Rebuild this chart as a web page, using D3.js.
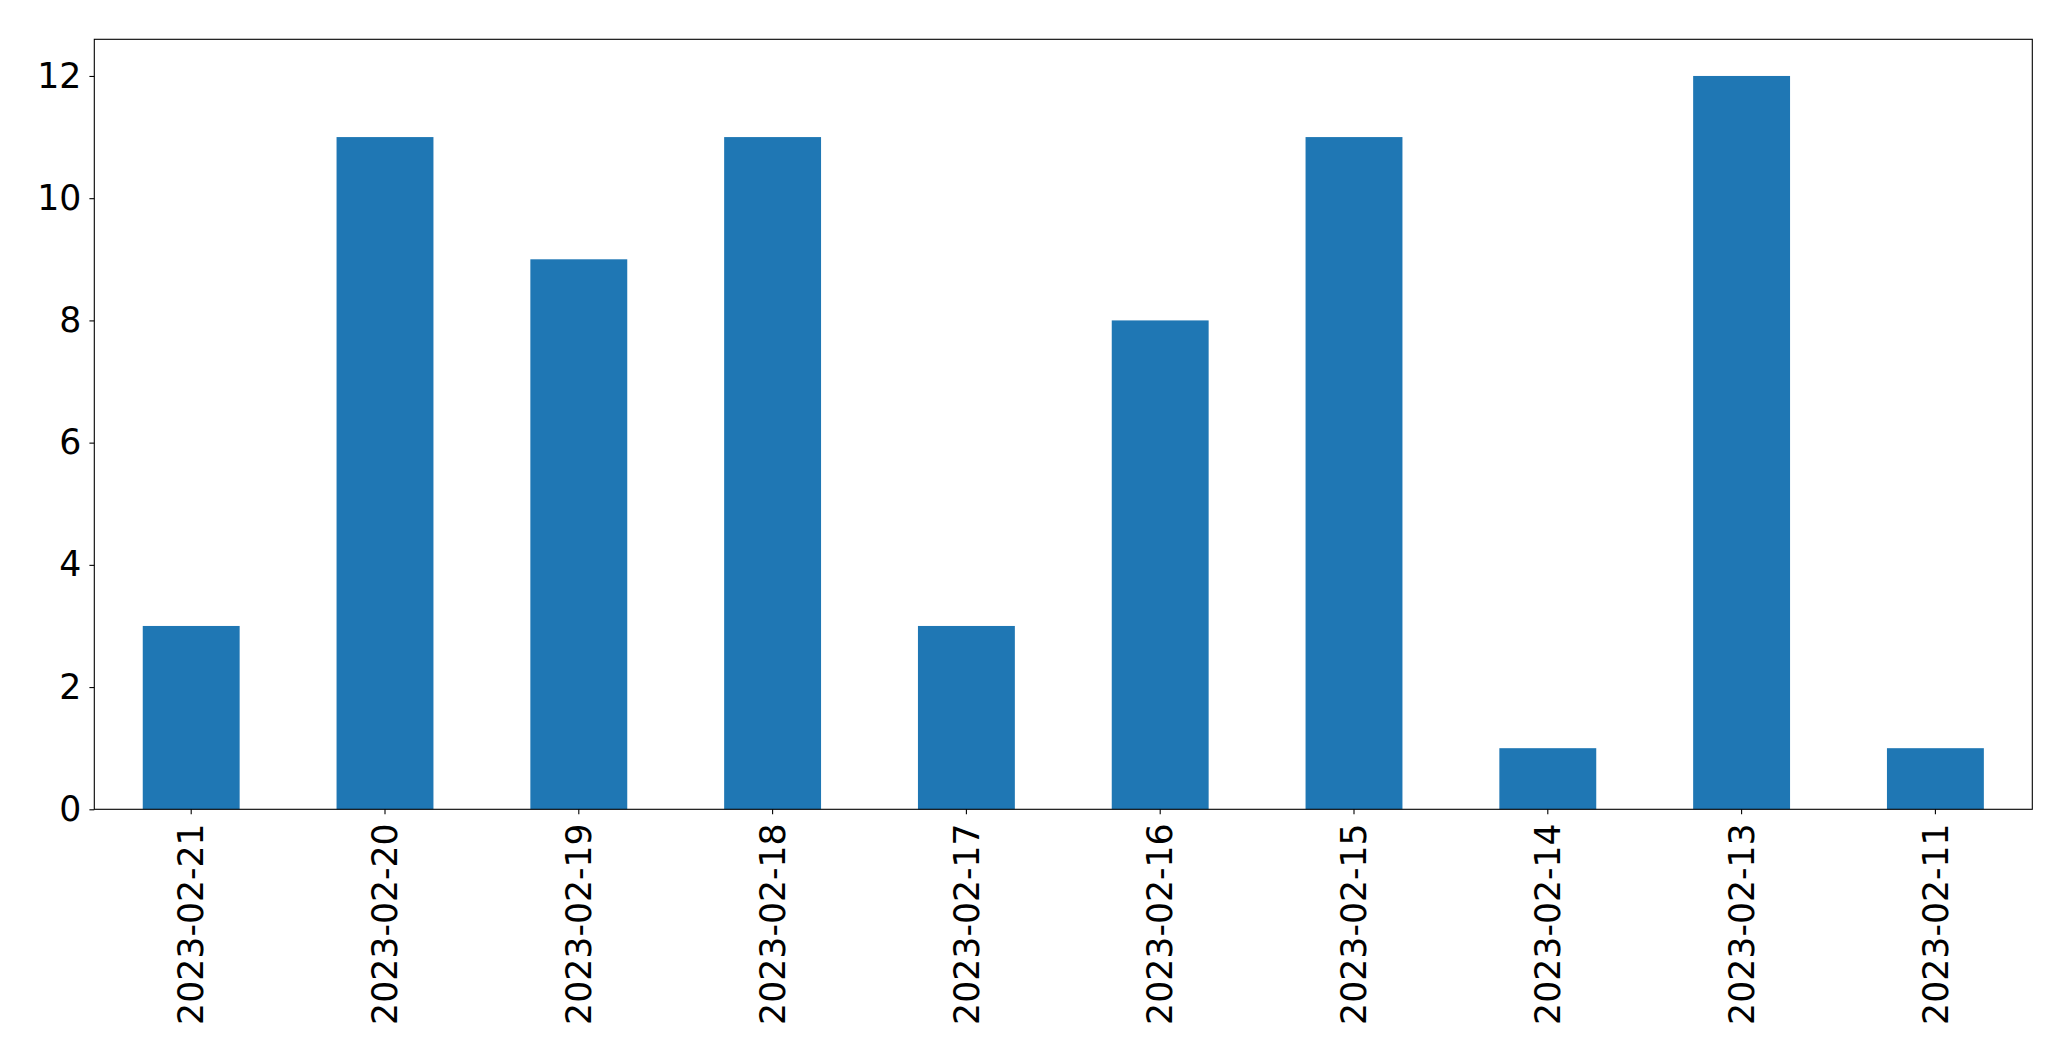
<!DOCTYPE html>
<html><head><meta charset="utf-8">
<script src="https://cdn.jsdelivr.net/npm/d3@7"></script>
<style>html,body{margin:0;padding:0;background:#fff;}svg{display:block;}</style>
</head><body>
<svg id="chart" width="2071" height="1061"></svg>
<script>
const categories = ["2023-02-21","2023-02-20","2023-02-19","2023-02-18","2023-02-17","2023-02-16","2023-02-15","2023-02-14","2023-02-13","2023-02-11"];
const values = [3, 11, 9, 11, 3, 8, 11, 1, 12, 1];
const yTicks = [0, 2, 4, 6, 8, 10, 12];

const svg = d3.select("#chart");
const m = {left: 94.3, right: 2032.3, top: 39.3, bottom: 809.3};
const fontFamily = "'DejaVu Sans', sans-serif";
const fs = 34.7;

const x = d3.scaleBand().domain(categories).range([m.left, m.right]).paddingInner(0.5).paddingOuter(0.25);
const y = d3.scaleLinear().domain([0, 12.6]).range([m.bottom, m.top]);

svg.append("g").selectAll("rect").data(values).join("rect")
  .attr("x", (d, i) => x(categories[i]))
  .attr("width", x.bandwidth())
  .attr("y", d => y(d))
  .attr("height", d => y(0) - y(d))
  .attr("fill", "#1f77b4");

// y axis
const yAxis = svg.append("g").attr("transform", `translate(${m.left},0)`)
  .call(d3.axisLeft(y).tickValues(yTicks).tickSize(4.9).tickPadding(8).tickFormat(d3.format("d")));
yAxis.select(".domain").remove();
yAxis.selectAll("line").attr("stroke", "#000").attr("stroke-width", 1.1);
yAxis.selectAll("text").attr("font-family", fontFamily).attr("font-size", fs).attr("fill", "#000");

// x axis
const xAxis = svg.append("g").attr("transform", `translate(0,${m.bottom})`)
  .call(d3.axisBottom(x).tickSize(4.9).tickPadding(0));
xAxis.select(".domain").remove();
xAxis.selectAll("line").attr("stroke", "#000").attr("stroke-width", 1.1);
xAxis.selectAll("text")
  .attr("font-family", fontFamily).attr("font-size", fs).attr("fill", "#000")
  .attr("text-anchor", "end")
  .attr("dy", null)
  .attr("y", 0)
  .attr("transform", "translate(0,14) rotate(-90)")
  .attr("x", 0)
  .attr("dy", "0.35em");

// frame
svg.append("rect")
  .attr("x", m.left).attr("y", m.top)
  .attr("width", m.right - m.left).attr("height", m.bottom - m.top)
  .attr("fill", "none").attr("stroke", "#000").attr("stroke-width", 1.1);
</script>
</body></html>
